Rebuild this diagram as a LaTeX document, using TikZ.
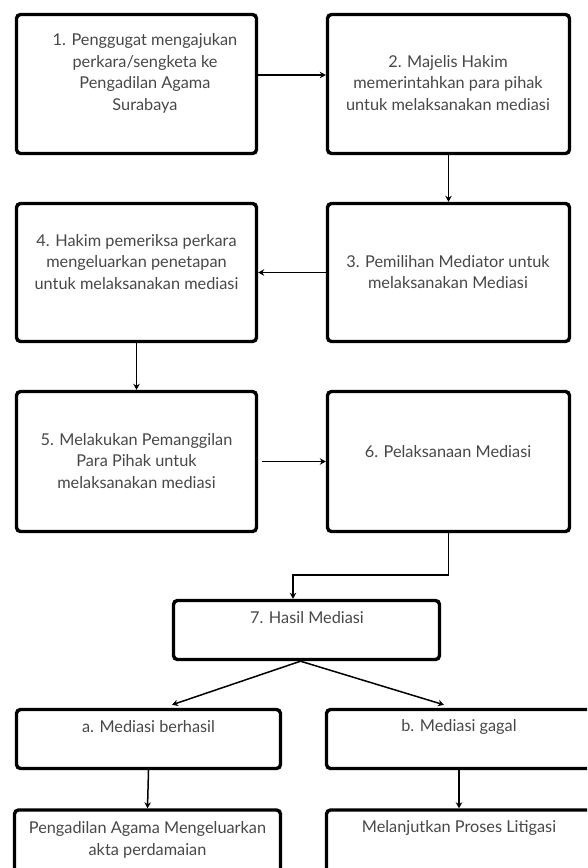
\documentclass[tikz,border=0pt]{standalone}
\usepackage{fontspec}
\setmainfont{Lato}
\usetikzlibrary{arrows.meta}

\tikzset{
  stepbox/.style={draw=black, line width=3.4pt, rounded corners=4pt, inner sep=0pt},
  steptext/.style={text=black!72, font=\fontsize{16.3}{21.5}\selectfont, align=center, inner sep=0pt},
  flow/.style={line width=1.5pt, -{Stealth[length=6pt,width=6.5pt]}},
}

\begin{document}
\begin{tikzpicture}[x=1pt,y=-1pt]

    \useasboundingbox (0,0) rectangle (587,868);
    \clip (0,0) rectangle (587,868);

    % STEP 1
    \node[stepbox, minimum width=240pt, minimum height=139pt] (s1) at (136.5,84) {};
    \node[steptext] (t1) at (145,73.5) {1. Penggugat mengajukan\\perkara/sengketa ke\\Pengadilan Agama\\Surabaya};

    % STEP 2
    \node[stepbox, minimum width=242pt, minimum height=139pt] (s2) at (448.5,84) {};
    \node[steptext] (t2) at (448,83) {2. Majelis Hakim\\memerintahkan para pihak\\untuk melaksanakan mediasi};

    % STEP 3
    \node[stepbox, minimum width=242pt, minimum height=138pt] (s3) at (448.5,272.5) {};
    \node[steptext] (t3) at (448,272) {3. Pemilihan Mediator untuk\\melaksanakan Mediasi};

    % STEP 4
    \node[stepbox, minimum width=240pt, minimum height=138pt] (s4) at (136.5,272.5) {};
    \node[steptext] (t4) at (136.5,262) {4. Hakim pemeriksa perkara\\mengeluarkan penetapan\\untuk melaksanakan mediasi};

    % STEP 5
    \node[stepbox, minimum width=240pt, minimum height=140pt] (s5) at (136.5,461.5) {};
    \node[steptext] (t5) at (136.5,461) {5. Melakukan Pemanggilan\\Para Pihak untuk\\melaksanakan mediasi};

    % STEP 6
    \node[stepbox, minimum width=242pt, minimum height=140pt] (s6) at (448.5,461.5) {};
    \node[steptext] (t6) at (448,452) {6. Pelaksanaan Mediasi};

    % STEP 7
    \node[stepbox, minimum width=266pt, minimum height=59pt] (s7) at (306.5,630) {};
    \node[steptext] (t7) at (307,618) {7. Hasil Mediasi};

    % RESULTS
    \node[stepbox, minimum width=264pt, minimum height=59pt] (sa) at (148.5,739) {};
    \node[steptext] (ta) at (148.5,727) {a. Mediasi berhasil};
    \node[stepbox, minimum width=265pt, minimum height=59pt] (sb) at (459,739) {};
    \node[steptext] (tb) at (459,727) {b. Mediasi gagal};

    % FOLLOW-UP
    \node[stepbox, minimum width=266pt, minimum height=90pt] (fa) at (147.5,855) {};
    \node[steptext] (tfa) at (147.5,840) {Pengadilan Agama Mengeluarkan\\akta perdamaian};
    \node[stepbox, minimum width=265pt, minimum height=90pt] (fb) at (459,855) {};
    \node[steptext] (tfb) at (459,828) {Melanjutkan Proses Litigasi};

    % ARROWS
    \draw[flow] ([yshift=9pt]s1.east) -- ([yshift=9pt]s2.west);
    \draw[flow] (s2.south) -- (s3.north);
    \draw[flow] (s3.west) -- (s4.east);
    \draw[flow] (s4.south) -- (s5.north);
    \draw[flow, shorten <=4pt] (s5.east) -- (s6.west);
    \draw[flow] (s6.south) -- ++(0,42) -| ([xshift=-13.5pt]s7.north);
    \draw[flow] ([xshift=-6pt]s7.south) -- ([xshift=23.5pt,yshift=3pt]sa.north);
    \draw[flow] ([xshift=-6pt]s7.south) -- ([xshift=-15pt,yshift=3pt]sb.north);
    \draw[flow] (sa.south) -- (fa.north);
    \draw[flow] (sb.south) -- (fb.north);

\end{tikzpicture}
\end{document}
